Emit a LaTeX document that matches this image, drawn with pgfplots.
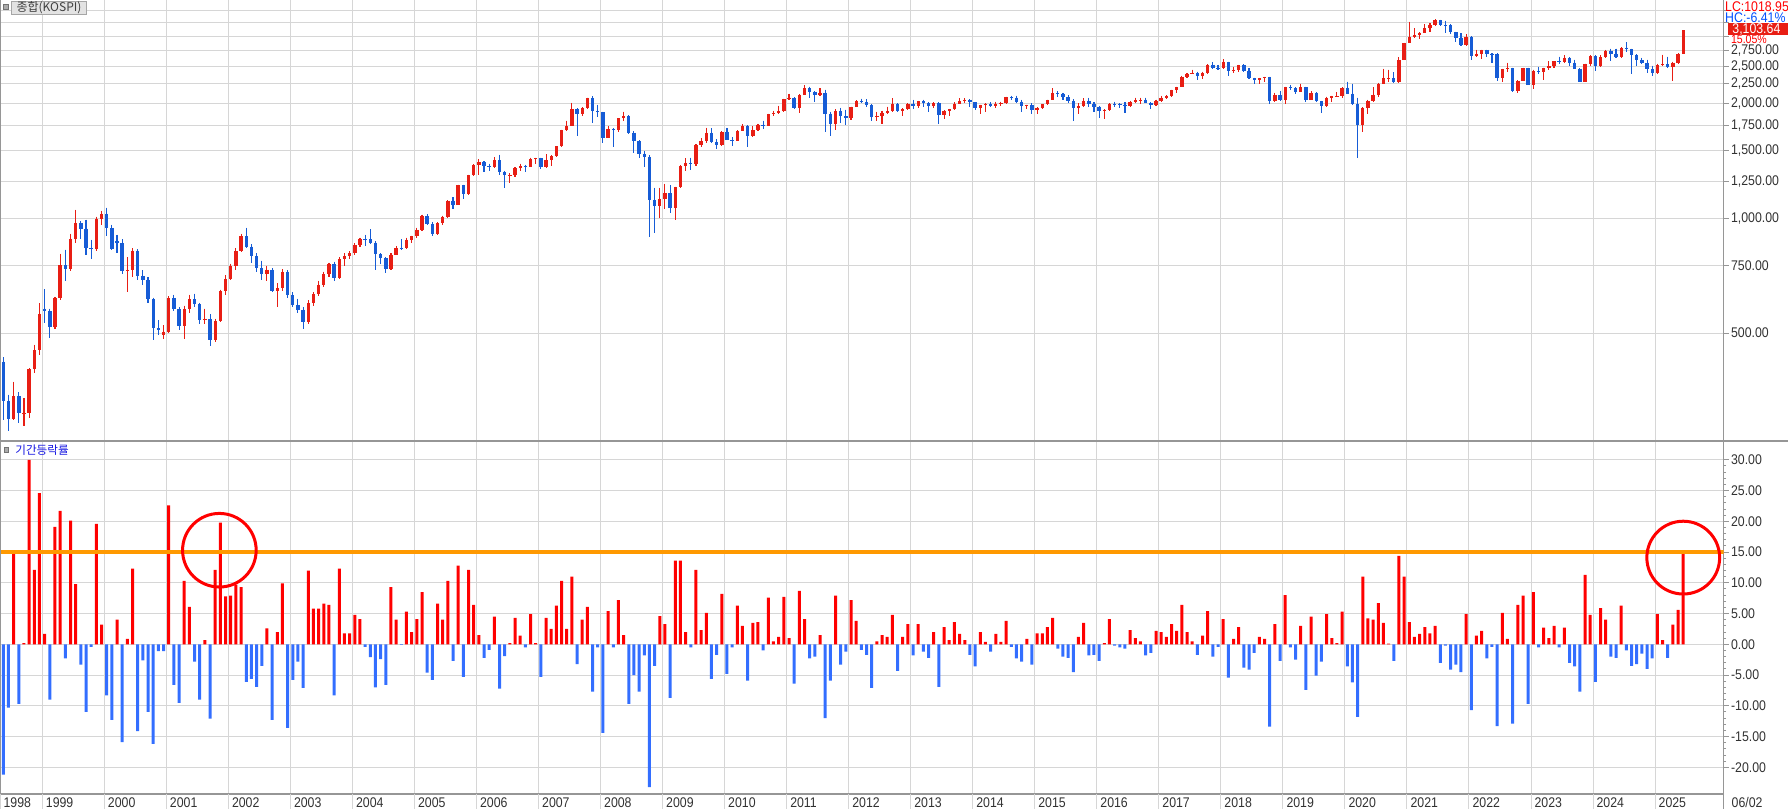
\documentclass[border=0pt]{standalone}
\usepackage{pgfplots}
\pgfplotsset{compat=1.18}
\usepackage{pgfplotstable}
\usepackage{fontspec}
\setmainfont{Liberation Sans}[FakeStretch=0.88]
\newfontfamily\kr{Noto Sans CJK KR}

\definecolor{cred}{RGB}{232,30,20}
\definecolor{cblue}{RGB}{22,92,214}
\definecolor{bred}{RGB}{255,0,0}
\definecolor{bblue}{RGB}{51,110,255}
\definecolor{orng}{RGB}{255,153,0}
\definecolor{gridc}{RGB}{214,214,214}
\definecolor{axc}{RGB}{150,150,150}
\definecolor{txt}{RGB}{50,50,50}

% i = month index (0 = 1998-05), o/h/l/c = monthly candle, v = period change in %
\pgfplotstableread{
i o h l c v
0 421 432 297 333 -21.2
1 333 345 277 297.9 -10.3
2 297.9 373 296 341.7 14.7
3 341.7 350 291 308.6 -9.7
4 308.6 338 286 309.2 0.2
5 309.2 405 300 402 30.0
6 402 466 394 450.6 12.1
7 450.6 599 439 562.5 24.6
8 580 652 531 571.4 1.7
9 571.4 580 487 519.9 -9.0
10 519.9 622 512 619 19.1
11 619 806 612 752.6 21.7
12 752.6 828 683 735.9 -2.3
13 735.9 910 728 883.9 20.1
14 883.9 1052 860 971.1 9.8
15 971.1 983 880 939.2 -3.3
16 939.2 990 800 835.6 -11.0
17 835.6 878 780 832.4 -0.4
18 832.4 1010 820 995.7 19.6
19 995.7 1045 960 1028.1 3.2
20 1028.1 1066 900 943.9 -8.3
21 943.9 960 825 828.4 -12.3
22 870 905 810 860.9 4.0
23 860.9 880 715 725.4 -15.9
24 725.4 790 640 731.9 0.9
25 731.9 835 700 821.2 12.3
26 821.2 830 690 706 -14.1
27 706 730 670 688.6 -2.6
28 688.6 700 600 613.2 -11.0
29 613.2 620 480 514.5 -16.2
30 514.5 540 495 508.8 -1.1
31 495 525 482 504.6 -1.1
32 504.6 625 500 618.6 22.6
33 618.6 630 570 577.8 -6.6
34 577.8 585 510 523.2 -9.5
35 523.2 590 482 577.1 10.3
36 577.1 630 565 612.6 6.1
37 612.6 635 585 595.1 -2.8
38 595.1 600 530 541.6 -9.0
39 541.6 580 530 545.1 0.7
40 545.1 560 463 479.7 -12.1
41 479.7 545 475 537.6 12.1
42 537.6 650 535 643.9 19.8
43 643.9 710 630 693.7 7.8
44 693.7 760 690 748.5 7.9
45 748.5 835 730 821 9.7
46 821 910 815 897.5 9.3
47 897.5 943 835 843 -6.1
48 843 855 765 796 -5.6
49 796 810 725 741 -6.9
50 741 775 690 715 -3.5
51 715 750 685 734 2.6
52 734 740 640 643.5 -12.3
53 643.5 675 585 656.5 2.0
54 656.5 735 645 724 9.9
55 724 730 620 627.6 -13.6
56 627.6 640 585 591.9 -5.8
57 591.9 615 565 575.4 -2.8
58 575.4 585 512 535.7 -7.1
59 535.7 610 530 599.4 12.0
60 599.4 640 590 633.4 5.8
61 633.4 685 625 669.9 5.8
62 669.9 725 660 715 6.6
63 715 765 700 759.5 6.4
64 759.5 770 685 697.5 -8.3
65 697.5 790 695 783 12.3
66 783 810 750 796.2 1.8
67 796.2 820 780 810.7 1.8
68 810.7 860 800 848.5 4.8
69 848.5 890 840 881 4.1
70 881 905 845 880.5 -0.4
71 880.5 937 855 862.8 -2.1
72 862.8 870 730 803.8 -7.0
73 803.8 810 760 785.8 -2.4
74 785.8 790 719 735.3 -6.6
75 735.3 810 730 803 9.3
76 803 845 800 835.1 4.0
77 835.1 880 825 834.7 -0.1
78 834.7 890 830 878.1 5.3
79 878.1 900 860 895.9 2.0
80 895.9 945 885 932.7 4.1
81 932.7 1022 925 1011.4 8.5
82 1011.4 1024 960 965.7 -4.6
83 965.7 975 900 911.3 -5.8
84 911.3 975 903 970.2 6.6
85 970.2 1015 960 1008.2 4.0
86 1008.2 1115 1000 1111.3 10.3
87 1111.3 1135 1060 1083.3 -2.7
88 1083.3 1225 1080 1221 12.8
89 1221 1225 1120 1158.1 -5.3
90 1158.1 1300 1150 1297.4 12.1
91 1297.4 1384 1290 1379.4 6.4
92 1379.4 1425 1300 1399.8 1.5
93 1399.8 1410 1320 1371.6 -2.2
94 1371.6 1390 1330 1359.6 -0.9
95 1359.6 1445 1350 1419.7 4.5
96 1419.7 1465 1300 1317.7 -7.2
97 1317.7 1330 1200 1295.2 -1.9
98 1295.2 1310 1240 1297.8 0.2
99 1297.8 1360 1285 1352.7 4.3
100 1352.7 1390 1330 1371.4 1.4
101 1371.4 1380 1320 1364.6 -0.5
102 1364.6 1440 1360 1432.2 4.9
103 1432.2 1440 1390 1434.5 0.2
104 1434.5 1440 1345 1360.2 -5.3
105 1360.2 1470 1355 1417.3 4.3
106 1417.3 1460 1370 1452.6 2.5
107 1452.6 1545 1450 1542.2 6.3
108 1542.2 1705 1540 1700.9 10.3
109 1700.9 1800 1690 1743.6 2.5
110 1743.6 2005 1740 1933.3 11.0
111 1933.3 1940 1638 1873.2 -3.2
112 1873.2 1950 1850 1946.5 4.0
113 1946.5 2070 1930 2064.9 6.1
114 2064.9 2085 1773 1906 -7.7
115 1906 1980 1840 1897.1 -0.5
116 1897.1 1900 1570 1624.7 -14.4
117 1624.7 1740 1620 1711.6 5.4
118 1711.6 1720 1537 1704 -0.5
119 1704 1830 1680 1825.5 7.2
120 1825.5 1901 1800 1852 1.5
121 1852 1860 1660 1674.9 -9.7
122 1674.9 1690 1480 1594.7 -5.0
123 1594.7 1600 1440 1474.2 -7.7
124 1474.2 1500 1360 1448.1 -1.8
125 1448.1 1460 892 1113.1 -23.2
126 1113.1 1200 914 1076.1 -3.5
127 1076.1 1200 1000 1124.5 4.6
128 1124.5 1230 1060 1162.1 3.3
129 1162.1 1220 1030 1063 -8.7
130 1063 1210 992 1206.3 13.6
131 1206.3 1375 1200 1369.4 13.6
132 1369.4 1435 1330 1395.9 2.0
133 1395.9 1440 1340 1390.1 -0.5
134 1390.1 1560 1370 1557.3 12.1
135 1557.3 1620 1540 1591.9 2.3
136 1591.9 1723 1570 1673.1 5.1
137 1673.1 1720 1570 1580.7 -5.6
138 1580.7 1610 1520 1555.6 -1.7
139 1555.6 1690 1550 1682.8 8.2
140 1682.8 1723 1600 1602.4 -4.8
141 1602.4 1630 1550 1594.6 -0.5
142 1594.6 1700 1590 1692.9 6.3
143 1692.9 1760 1690 1741.6 3.0
144 1741.6 1750 1532 1641.3 -5.9
145 1641.3 1740 1630 1698.3 3.5
146 1698.3 1765 1690 1759.3 3.6
147 1759.3 1800 1710 1742.8 -1.0
148 1742.8 1880 1740 1872.8 7.6
149 1872.8 1910 1850 1882.9 0.5
150 1882.9 1970 1880 1904.6 1.2
151 1904.6 2055 1900 2051 7.7
152 2051 2115 2040 2069.7 1.0
153 2069.7 2075 1930 1939.3 -6.4
154 1939.3 2110 1882 2106.7 8.7
155 2106.7 2231 2100 2192.4 4.1
156 2192.4 2210 2060 2142.5 -2.3
157 2142.5 2150 2010 2100.7 -2.0
158 2100.7 2190 2090 2133.2 1.5
159 2133.2 2170 1684 1880.1 -12.0
160 1880.1 1900 1644 1769.7 -5.9
161 1769.7 1930 1700 1909 7.9
162 1909 1945 1780 1847.5 -3.3
163 1847.5 1925 1750 1825.7 -1.2
164 1825.7 1960 1810 1955.8 7.2
165 1955.8 2035 1950 2030.3 3.8
166 2030.3 2057 2000 2014 -0.9
167 2014 2050 1960 1982 -1.7
168 1982 1990 1800 1843.5 -7.1
169 1843.5 1900 1800 1854 0.5
170 1854 1910 1760 1882 1.5
171 1882 1960 1870 1905.1 1.2
172 1905.1 2060 1900 1996.2 4.8
173 1996.2 2000 1900 1912.1 -4.3
174 1912.1 1940 1850 1932.9 1.2
175 1932.9 2000 1920 1997.1 3.3
176 1997.1 2040 1930 1961.9 -1.8
177 1961.9 2030 1940 2026.5 3.3
178 2026.5 2045 1960 2004.9 -1.2
179 2004.9 2010 1900 1964 -2.2
180 1964 2010 1940 2001.1 2.0
181 2001.1 2010 1770 1863.3 -6.9
182 1863.3 1920 1820 1914 2.8
183 1914 1935 1850 1926.4 0.7
184 1926.4 2010 1920 1997 3.6
185 1997 2060 1990 2030.1 1.7
186 2030.1 2060 2000 2044.9 0.7
187 2044.9 2050 1960 2011.3 -1.7
188 2011.3 2015 1920 1941.2 -3.6
189 1941.2 1985 1880 1980 2.0
190 1980 2000 1900 1985.6 0.4
191 1985.6 2015 1950 1961.8 -1.2
192 1961.8 2020 1940 1995 1.7
193 1995 2020 1970 2002.2 0.4
194 2002.2 2082 1990 2076.1 3.8
195 2076.1 2090 2040 2068.5 -0.4
196 2068.5 2093 2000 2020.1 -2.3
197 2020.1 2040 1900 1964.4 -2.8
198 1964.4 1985 1930 1980.8 0.9
199 1980.8 2000 1880 1915.6 -3.3
200 1915.6 1950 1880 1949.3 1.8
201 1949.3 1990 1930 1985.8 1.8
202 1985.8 2045 1980 2041 2.8
203 2041 2190 2040 2127.2 4.3
204 2127.2 2150 2080 2114.8 -0.7
205 2114.8 2130 2040 2074.2 -2.0
206 2074.2 2100 2000 2030.2 -2.2
207 2030.2 2050 1800 1941.5 -4.5
208 1941.5 2000 1880 1962.8 1.2
209 1962.8 2060 1950 2029.5 3.5
210 2029.5 2065 1960 1992 -1.8
211 1992 2010 1900 1961.3 -1.7
212 1961.3 1970 1830 1912.1 -2.7
213 1912.1 1930 1817 1916.7 0.2
214 1916.7 2000 1910 1995.9 4.1
215 1995.9 2020 1960 1994.2 -0.2
216 1994.2 2000 1940 1983.4 -0.5
217 1983.4 2010 1890 1970.4 -0.7
218 1970.4 2030 1960 2016.2 2.3
219 2016.2 2070 2000 2034.7 1.0
220 2034.7 2070 1990 2043.6 0.5
221 2043.6 2070 2000 2008.2 -1.8
222 2008.2 2010 1930 1983.5 -1.4
223 1983.5 2045 1970 2026.5 2.2
224 2026.5 2090 2010 2067.6 2.0
225 2067.6 2100 2050 2091.6 1.2
226 2091.6 2170 2080 2160.2 3.3
227 2160.2 2210 2130 2205.4 2.2
228 2205.4 2360 2200 2347.4 6.4
229 2347.4 2400 2330 2391.8 2.0
230 2391.8 2450 2380 2402.7 0.5
231 2402.7 2420 2300 2363.2 -1.7
232 2363.2 2420 2310 2394.5 1.4
233 2394.5 2530 2390 2523.4 5.4
234 2523.4 2560 2460 2476.4 -2.0
235 2476.4 2520 2440 2467.5 -0.4
236 2467.5 2607 2460 2566.5 4.1
237 2566.5 2570 2360 2427.4 -5.4
238 2427.4 2490 2400 2445.9 0.9
239 2445.9 2520 2410 2515.4 2.8
240 2515.4 2530 2410 2423 -3.8
241 2423 2470 2310 2326.1 -4.1
242 2326.1 2335 2240 2295.3 -1.4
243 2295.3 2330 2250 2322.9 1.2
244 2322.9 2345 2280 2343.1 0.9
245 2343.1 2345 1986 2029.7 -13.4
246 2029.7 2130 2020 2096.9 3.3
247 2096.9 2150 2030 2041 -2.7
248 2041 2210 1990 2204.9 8.0
249 2204.9 2235 2170 2195.4 -0.5
250 2195.4 2200 2120 2140.7 -2.5
251 2140.7 2250 2135 2203.6 3.0
252 2203.6 2210 2020 2041.7 -7.4
253 2041.7 2150 2035 2130.6 4.5
254 2130.6 2135 2010 2024.6 -5.1
255 2024.6 2030 1891 1967.8 -2.8
256 1967.8 2080 1960 2063.1 4.9
257 2063.1 2090 2020 2083.5 1.0
258 2083.5 2140 2075 2088 0.2
259 2088 2205 2070 2197.7 5.3
260 2197.7 2280 2110 2119 -3.6
261 2119 2250 1980 1987 -6.2
262 1987 2070 1439 1754.6 -11.8
263 1754.6 1950 1680 1947.6 11.0
264 1947.6 2040 1880 2029.6 4.2
265 2029.6 2200 2020 2108.3 4.0
266 2108.3 2260 2080 2249.4 6.7
267 2249.4 2460 2240 2326.2 3.5
268 2326.2 2450 2280 2327.9 0.1
269 2327.9 2410 2260 2267.2 -2.7
270 2267.2 2640 2260 2591.3 14.4
271 2591.3 2880 2590 2873.5 11.0
272 2873.5 3266 2870 2976.2 3.6
273 2976.2 3140 2970 3013 1.2
274 3013 3070 2940 3061.4 1.7
275 3061.4 3220 3055 3147.9 2.8
276 3147.9 3240 3080 3204 1.8
277 3204 3316 3190 3296.7 3.0
278 3296.7 3305 3180 3202.3 -3.0
279 3202.3 3290 3060 3199.3 -0.2
280 3199.3 3220 3030 3068.8 -4.1
281 3068.8 3075 2900 2970.7 -3.3
282 2970.7 3050 2830 2839 -4.5
283 2839 3030 2830 2977.7 4.9
284 2977.7 3000 2590 2663.3 -10.7
285 2663.3 2760 2640 2699.2 1.4
286 2699.2 2760 2610 2757.7 2.2
287 2757.7 2765 2650 2695.1 -2.3
288 2695.1 2700 2550 2685.9 -0.4
289 2685.9 2700 2290 2332.6 -13.3
290 2332.6 2460 2280 2451.5 5.1
291 2451.5 2550 2410 2472.1 0.9
292 2472.1 2480 2135 2155.5 -12.9
293 2155.5 2300 2130 2293.6 6.4
294 2293.6 2480 2290 2472.5 7.9
295 2472.5 2480 2230 2236.4 -9.7
296 2236.4 2450 2180 2425.1 8.5
297 2425.1 2490 2390 2412.9 -0.5
298 2412.9 2480 2300 2476.9 2.7
299 2476.9 2580 2450 2501.5 1.0
300 2501.5 2580 2470 2577.1 3.0
301 2577.1 2650 2540 2564.2 -0.5
302 2564.2 2670 2550 2632.6 2.7
303 2632.6 2640 2500 2556.3 -3.0
304 2556.3 2600 2460 2465.1 -3.6
305 2465.1 2470 2270 2278 -7.7
306 2278 2540 2275 2535.3 11.3
307 2535.3 2670 2500 2655.3 4.8
308 2655.3 2670 2430 2497.1 -6.1
309 2497.1 2670 2490 2642.4 5.9
310 2642.4 2760 2620 2746.6 4.0
311 2746.6 2780 2580 2692.1 -2.0
312 2692.1 2780 2620 2636.5 -2.2
313 2636.5 2800 2630 2797.8 6.3
314 2797.8 2890 2730 2770.7 -1.0
315 2770.7 2780 2386 2674.3 -3.5
316 2674.3 2690 2500 2593.3 -3.2
317 2593.3 2630 2540 2556.2 -1.5
318 2556.2 2600 2400 2455.9 -4.0
319 2455.9 2510 2360 2399.5 -2.3
320 2399.5 2540 2390 2517.4 4.9
321 2517.4 2680 2500 2532.8 0.7
322 2532.8 2650 2470 2481.1 -2.2
323 2481.1 2570 2285 2556.6 3.2
324 2556.6 2700 2540 2697.7 5.6
325 2697.7 3105 2690 3103.6 15.05
}\kospi

\begin{document}
\begin{tikzpicture}
\pgfplotsset{
  common/.style={
    scale only axis, width=861.85pt,
    xmin=-0.64, xmax=332.83,
    axis x line*=bottom, axis y line*=right,
    axis line style={draw=axc, line width=0.7pt, -},
    grid=major, major grid style={draw=gridc, line width=0.5pt},
    tick align=outside,
    xtick style={draw=none},
    ytick style={draw=axc, line width=0.5pt},
    major tick length=2.5pt, minor tick length=1.2pt,
    tick label style={font=\fontsize{7}{8}\selectfont, text=txt},
    yticklabel style={anchor=west, inner sep=0pt, xshift=1pt},
    clip mode=individual,
  },
  candle/.style={only marks, mark=*, mark size=0pt,
    mark options={draw=none, fill=none}, forget plot},
}
% ---------------- top panel: monthly candles ----------------
\begin{axis}[common, at={(0pt,0pt)}, anchor=north west, height=220.5pt,
  ymode=log, ymin=261, ymax=3727.6,
  xtick={7.55,19.55,31.55,43.55,55.55,67.55,79.55,91.55,103.55,115.55,127.55,139.55,151.55,163.55,175.55,187.55,199.55,211.55,223.55,235.55,247.55,259.55,271.55,283.55,295.55,307.55,319.55},
  xticklabels={},
  ytick={500,750,1000,1250,1500,1750,2000,2250,2500,2750,3000,3250,3500},
  yticklabels={500.00,750.00,{1,000.00},{1,250.00},{1,500.00},{1,750.00},{2,000.00},{2,250.00},{2,500.00},{2,750.00},{},{},{}},
]
% wicks
\addplot[candle,
  x filter/.expression={\thisrow{c}>=\thisrow{o} ? x : nan},
  error bars/.cd, y dir=minus, y explicit, error mark=none,
  error bar style={draw=cred, line width=0.55pt}]
  table[x=i, y=h, y error expr=\thisrow{h}-\thisrow{l}] {\kospi};
\addplot[candle,
  x filter/.expression={\thisrow{c}<\thisrow{o} ? x : nan},
  error bars/.cd, y dir=minus, y explicit, error mark=none,
  error bar style={draw=cblue, line width=0.55pt}]
  table[x=i, y=h, y error expr=\thisrow{h}-\thisrow{l}] {\kospi};
% bodies
\addplot[candle,
  x filter/.expression={\thisrow{c}>=\thisrow{o} ? x : nan},
  error bars/.cd, y dir=minus, y explicit, error mark=none,
  error bar style={draw=cred, line width=1.7pt}]
  table[x=i, y=c, y error expr=\thisrow{c}-\thisrow{o}] {\kospi};
\addplot[candle,
  x filter/.expression={\thisrow{c}<\thisrow{o} ? x : nan},
  error bars/.cd, y dir=minus, y explicit, error mark=none,
  error bar style={draw=cblue, line width=1.7pt}]
  table[x=i, y=o, y error expr=\thisrow{o}-\thisrow{c}] {\kospi};
\end{axis}

% ---------------- bottom panel: period change ----------------
\begin{axis}[common, at={(0pt,-220.5pt)}, anchor=north west, height=176.5pt,
  ymin=-24.34, ymax=33.06,
  xtick={-0.64,7.55,19.55,31.55,43.55,55.55,67.55,79.55,91.55,103.55,115.55,127.55,139.55,151.55,163.55,175.55,187.55,199.55,211.55,223.55,235.55,247.55,259.55,271.55,283.55,295.55,307.55,319.55},
  xticklabels={1998,1999,2000,2001,2002,2003,2004,2005,2006,2007,2008,2009,2010,2011,2012,2013,2014,2015,2016,2017,2018,2019,2020,2021,2022,2023,2024,2025},
  xticklabel style={anchor=north west, inner sep=0pt, xshift=1.6pt, yshift=0.9pt},
  ytick={-20,-15,-10,-5,0,5,10,15,20,25,30},
  yticklabels={-20.00,-15.00,-10.00,-5.00,0.00,5.00,10.00,15.00,20.00,25.00,30.00},
  minor y tick num=4,
]
\addplot[ybar, bar width=1.5pt, bar shift=0pt, fill=bred, draw=none,
  y filter/.expression={y>0 ? y : nan}] table[x=i, y=v] {\kospi};
\addplot[ybar, bar width=1.5pt, bar shift=0pt, fill=bblue, draw=none,
  y filter/.expression={y<0 ? y : nan}] table[x=i, y=v] {\kospi};
\addplot[orng, line width=1.85pt] coordinates {(-0.64,15) (332.83,15)};
\draw[bred, line width=1.5pt] (axis cs:41.8,15.3) circle[radius=18.4pt];
\draw[bred, line width=1.5pt] (axis cs:325,14.1) circle[radius=18.2pt];
\pgfplotsinvokeforeach{-0.64,7.55,19.55,31.55,43.55,55.55,67.55,79.55,91.55,103.55,115.55,127.55,139.55,151.55,163.55,175.55,187.55,199.55,211.55,223.55,235.55,247.55,259.55,271.55,283.55,295.55,307.55,319.55}{
  \draw[gridc, line width=0.5pt] (axis cs:#1,-24.34) -- ++(0pt,-7.5pt);
}
\node[anchor=north west, inner sep=0pt, font=\fontsize{7}{8}\selectfont, text=txt, xshift=3.8pt, yshift=-1.6pt] at (axis cs:332.83,-24.34) {06/02};
\end{axis}

% frame pieces
\draw[axc, line width=0.6pt] (0.35pt,0pt) -- (0.35pt,-397pt);
\draw[axc, line width=0.7pt] (0pt,-220.5pt) -- (894pt,-220.5pt);
\draw[axc, line width=0.7pt] (861.85pt,-397pt) -- (861.85pt,-404.5pt);

% panel titles
\filldraw[fill=black!33, draw=black!55, line width=0.4pt] (1.9pt,-2.35pt) rectangle (4.2pt,-4.65pt);
\filldraw[fill=black!11, draw=black!35, line width=0.5pt] (5.75pt,-0.5pt) rectangle (43.25pt,-7.15pt);
\node[inner sep=0pt, text=black!75, font=\kr\fontsize{6}{7}\selectfont] at (24.5pt,-3.85pt) {종합(KOSPI)};
\filldraw[fill=black!33, draw=black!55, line width=0.4pt] (2pt,-223.85pt) rectangle (4pt,-226.15pt);
\node[anchor=west, inner sep=0pt, text={rgb,255:red,20;green,20;blue,225}, font=\kr\fontsize{5.8}{7}\selectfont] at (7.5pt,-225.1pt) {기간등락률};

% right-hand annotations
\node[anchor=west, inner sep=0pt, text=bred, font=\fontsize{7}{8}\selectfont] at (862.4pt,-3.35pt) {LC:1018.95};
\node[anchor=west, inner sep=0pt, text={rgb,255:red,0;green,80;blue,255}, font=\fontsize{7}{8}\selectfont] at (862.4pt,-8.85pt) {HC:-6.41\%};
\node[anchor=west, inner sep=0pt, fill=white, text=bred, font=\fontsize{6}{6.5}\selectfont] at (865.3pt,-19.9pt) {15.05\%};
\fill[cred] (864pt,-11.65pt) rectangle (894pt,-17.5pt);
\node[anchor=west, inner sep=0pt, text=white, font=\fontsize{7}{8}\selectfont] at (866pt,-14.6pt) {3,103.64};

\pgfresetboundingbox
\path[use as bounding box] (0pt,0pt) rectangle (894pt,-404.5pt);
\end{tikzpicture}
\end{document}
